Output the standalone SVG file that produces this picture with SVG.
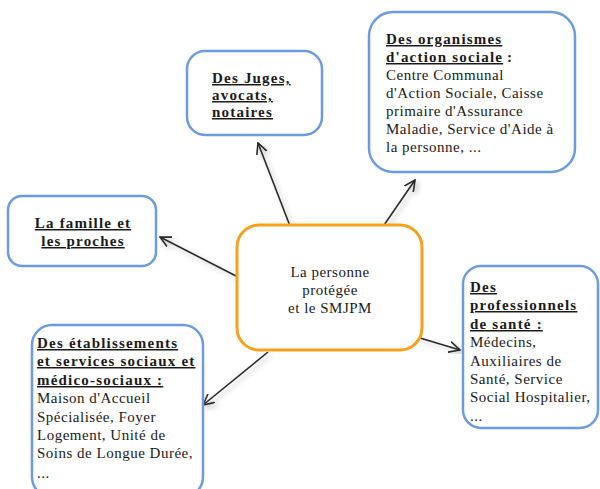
<svg xmlns="http://www.w3.org/2000/svg" width="600" height="489" viewBox="0 0 600 489">
<style>
.box{fill:#fff;stroke:#6e9be0;stroke-width:2.5}
.core{fill:#fff;stroke:#f7a01b;stroke-width:3}
text{font-family:"Liberation Serif","Times New Roman",serif;font-size:15px;fill:#1a1a1a}
.t{font-weight:bold;letter-spacing:1.2px;text-decoration:underline}
.b{letter-spacing:0.5px}
.c{text-anchor:middle}
.arr{stroke:#2a2a2a;stroke-width:1.6;fill:none;marker-end:url(#ah);filter:url(#sh)}
</style>
<defs>
<marker id="ah" viewBox="0 0 12 12" refX="11" refY="6" markerWidth="12" markerHeight="12" markerUnits="userSpaceOnUse" orient="auto">
<path d="M0,0.5 L11,6 L0,11.5" fill="none" stroke="#2a2a2a" stroke-width="1.6"/>
</marker>
<filter id="sh" x="-30%" y="-30%" width="160%" height="160%">
<feGaussianBlur in="SourceAlpha" stdDeviation="2.5"/>
<feOffset dx="3" dy="3" result="o"/>
<feComponentTransfer><feFuncA type="linear" slope="0.25"/></feComponentTransfer>
<feMerge><feMergeNode/><feMergeNode in="SourceGraphic"/></feMerge>
</filter>
</defs>
<g id="connectors">
<line class="arr" x1="290" y1="226" x2="258" y2="143"/>
<line class="arr" x1="382" y1="228" x2="415" y2="180"/>
<line class="arr" x1="238" y1="277" x2="160" y2="237"/>
<line class="arr" x1="420" y1="338" x2="460" y2="350"/>
<line class="arr" x1="268" y1="352" x2="203" y2="405"/>
</g>
<g id="juges">
<rect class="box" x="187" y="51" width="135" height="84" rx="18"/>
<text class="t" x="212" y="83">Des Juges,</text>
<text class="t" x="212" y="100">avocats,</text>
<text class="t" x="212" y="117">notaires</text>
</g>
<g id="organismes">
<rect class="box" x="369" y="12" width="206" height="160" rx="24"/>
<text class="t" x="386" y="44">Des organismes</text>
<text x="386" y="62"><tspan class="t">d'action sociale</tspan><tspan style="font-weight:bold"> :</tspan></text>
<text class="b" x="386" y="80">Centre Communal</text>
<text class="b" x="386" y="98">d'Action Sociale, Caisse</text>
<text class="b" x="386" y="116">primaire d'Assurance</text>
<text class="b" x="386" y="134">Maladie, Service d'Aide à</text>
<text class="b" x="386" y="152">la personne, ...</text>
</g>
<g id="famille">
<rect class="box" x="8" y="196" width="148" height="70" rx="14"/>
<text class="t c" x="83" y="228">La famille et</text>
<text class="t c" x="83" y="246">les proches</text>
</g>
<g id="centre">
<rect class="core" x="237" y="225" width="185" height="125" rx="22"/>
<text class="b c" x="330" y="277">La personne</text>
<text class="b c" x="330" y="295">protégée</text>
<text class="b c" x="330" y="313">et le SMJPM</text>
</g>
<g id="professionnels">
<rect class="box" x="463" y="266" width="135" height="162" rx="18"/>
<text class="t" x="470" y="292">Des</text>
<text class="t" x="470" y="310">professionnels</text>
<text class="t" x="470" y="329">de santé :</text>
<text class="b" x="470" y="347">Médecins,</text>
<text class="b" x="470" y="366">Auxiliaires de</text>
<text class="b" x="470" y="384">Santé, Service</text>
<text class="b" x="470" y="402">Social Hospitalier,</text>
<text class="b" x="470" y="421">...</text>
</g>
<g id="etablissements">
<rect class="box" x="32" y="325" width="171" height="172" rx="20"/>
<text class="t" x="37" y="348">Des établissements</text>
<text class="t" x="37" y="366">et services sociaux et</text>
<text class="t" x="37" y="385">médico-sociaux :</text>
<text class="b" x="37" y="403">Maison d'Accueil</text>
<text class="b" x="37" y="422">Spécialisée, Foyer</text>
<text class="b" x="37" y="440">Logement, Unité de</text>
<text class="b" x="37" y="458">Soins de Longue Durée,</text>
<text class="b" x="37" y="478">...</text>
</g>
</svg>
